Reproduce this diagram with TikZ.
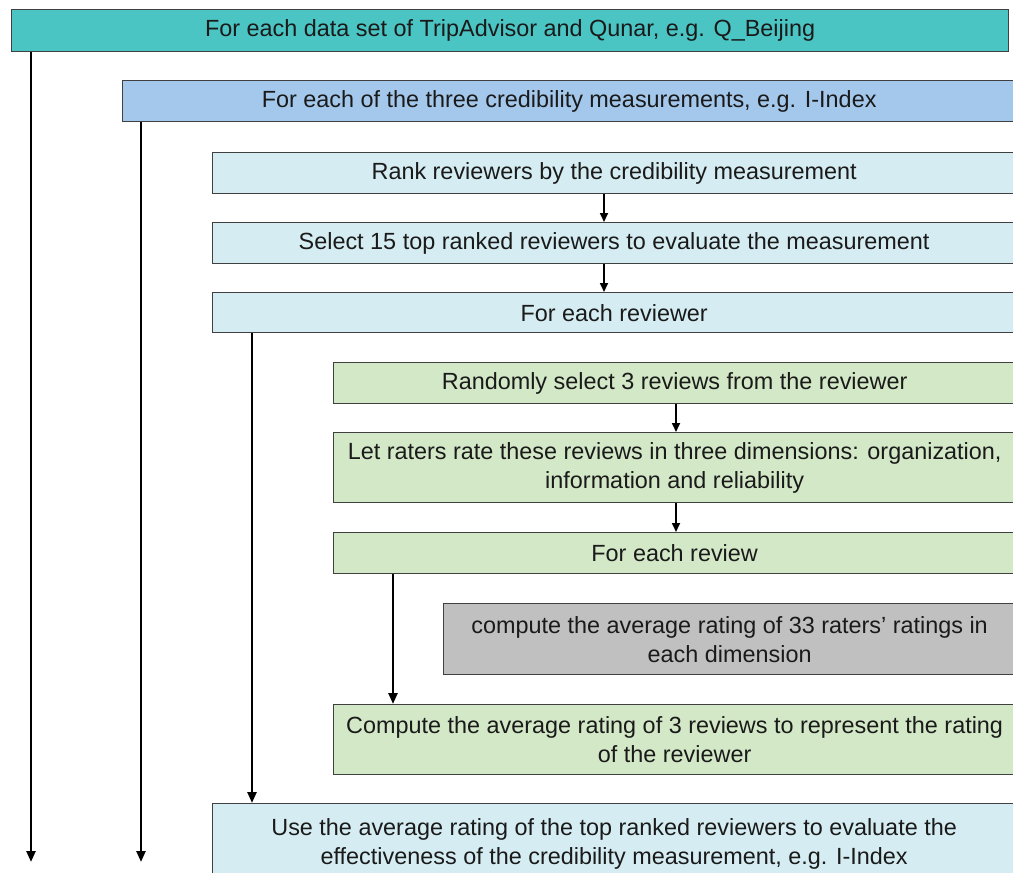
\documentclass[tikz,border=0pt]{standalone}
\usepackage{fontspec}
\setmainfont{Liberation Sans}
\usetikzlibrary{arrows.meta}
\definecolor{boxline}{HTML}{404040}
\definecolor{tealfill}{HTML}{4BC5C3}
\definecolor{bluefill}{HTML}{A4C8EC}
\definecolor{palefill}{HTML}{D5EDF2}
\definecolor{greenfill}{HTML}{D3E8C6}
\definecolor{grayfill}{HTML}{C0C0C0}
\definecolor{inktext}{HTML}{1A1A1A}
\begin{document}
\begin{tikzpicture}[x=1pt,y=-1pt,
  box/.style={draw=boxline, line width=1.3pt, anchor=north west, inner sep=0pt,
    align=center, text=inktext, font=\fontsize{23.4}{29}\selectfont},
  flow/.style={-{Triangle[length=11pt,width=9pt]}, line width=2.4pt, draw=black},
  link/.style={-{Triangle[length=9pt,width=8pt]}, line width=1.7pt, draw=black}]
\useasboundingbox (0,0) rectangle (1013,873);
\fill[white] (0,0) rectangle (1013,873);
\clip (0,0) rectangle (1013,873);

% outer loops
\node[box, fill=tealfill, minimum width=997, minimum height=42] (b1) at (11,9)
  {For each data set of TripAdvisor and Qunar, e.g. Q\_Beijing};
\node[box, fill=bluefill, minimum width=893, minimum height=41] (b2) at (122,80)
  {For each of the three credibility measurements, e.g. I-Index};

% per measurement
\node[box, fill=palefill, minimum width=803, minimum height=41] (b3) at (212,152)
  {Rank reviewers by the credibility measurement};
\node[box, fill=palefill, minimum width=803, minimum height=41] (b4) at (212,222)
  {Select 15 top ranked reviewers to evaluate the measurement};
\node[box, fill=palefill, minimum width=803, minimum height=40] (b5) at (212,292)
  {For each reviewer};

% per reviewer
\node[box, fill=greenfill, minimum width=682, minimum height=41] (b6) at (333,362)
  {Randomly select 3 reviews from the reviewer};
\node[box, fill=greenfill, minimum width=682, minimum height=70] (b7) at (333,432)
  {Let raters rate these reviews in three dimensions: organization,\\information and reliability};
\node[box, fill=greenfill, minimum width=682, minimum height=41] (b8) at (333,532)
  {For each review};
\node[box, fill=grayfill, minimum width=572, minimum height=71] (b9) at (443,603)
  {compute the average rating of 33 raters’ ratings in\\each dimension};
\node[box, fill=greenfill, minimum width=682, minimum height=70] (b10) at (333,704)
  {Compute the average rating of 3 reviews to represent the rating\\of the reviewer};

% result
\node[box, fill=palefill, minimum width=803, minimum height=80] (b11) at (212,803)
  {Use the average rating of the top ranked reviewers to evaluate the\\effectiveness of the credibility measurement, e.g. I-Index};

% connector columns
\coordinate (e1) at (31,862);
\coordinate (e2) at (141,862);
\coordinate (c3) at (252,0);
\coordinate (c4) at (393,0);
\coordinate (s1) at (604,0);
\coordinate (s2) at (676,0);

\draw[flow] (b1.south -| e1) -- (e1);
\draw[flow] (b2.south -| e2) -- (e2);
\draw[flow] (b5.south -| c3) -- (b11.north -| c3);
\draw[flow] (b8.south -| c4) -- (b10.north -| c4);

\draw[link] (b3.south -| s1) -- (b4.north -| s1);
\draw[link] (b4.south -| s1) -- (b5.north -| s1);
\draw[link] (b6.south -| s2) -- (b7.north -| s2);
\draw[link] (b7.south -| s2) -- (b8.north -| s2);
\end{tikzpicture}
\end{document}
